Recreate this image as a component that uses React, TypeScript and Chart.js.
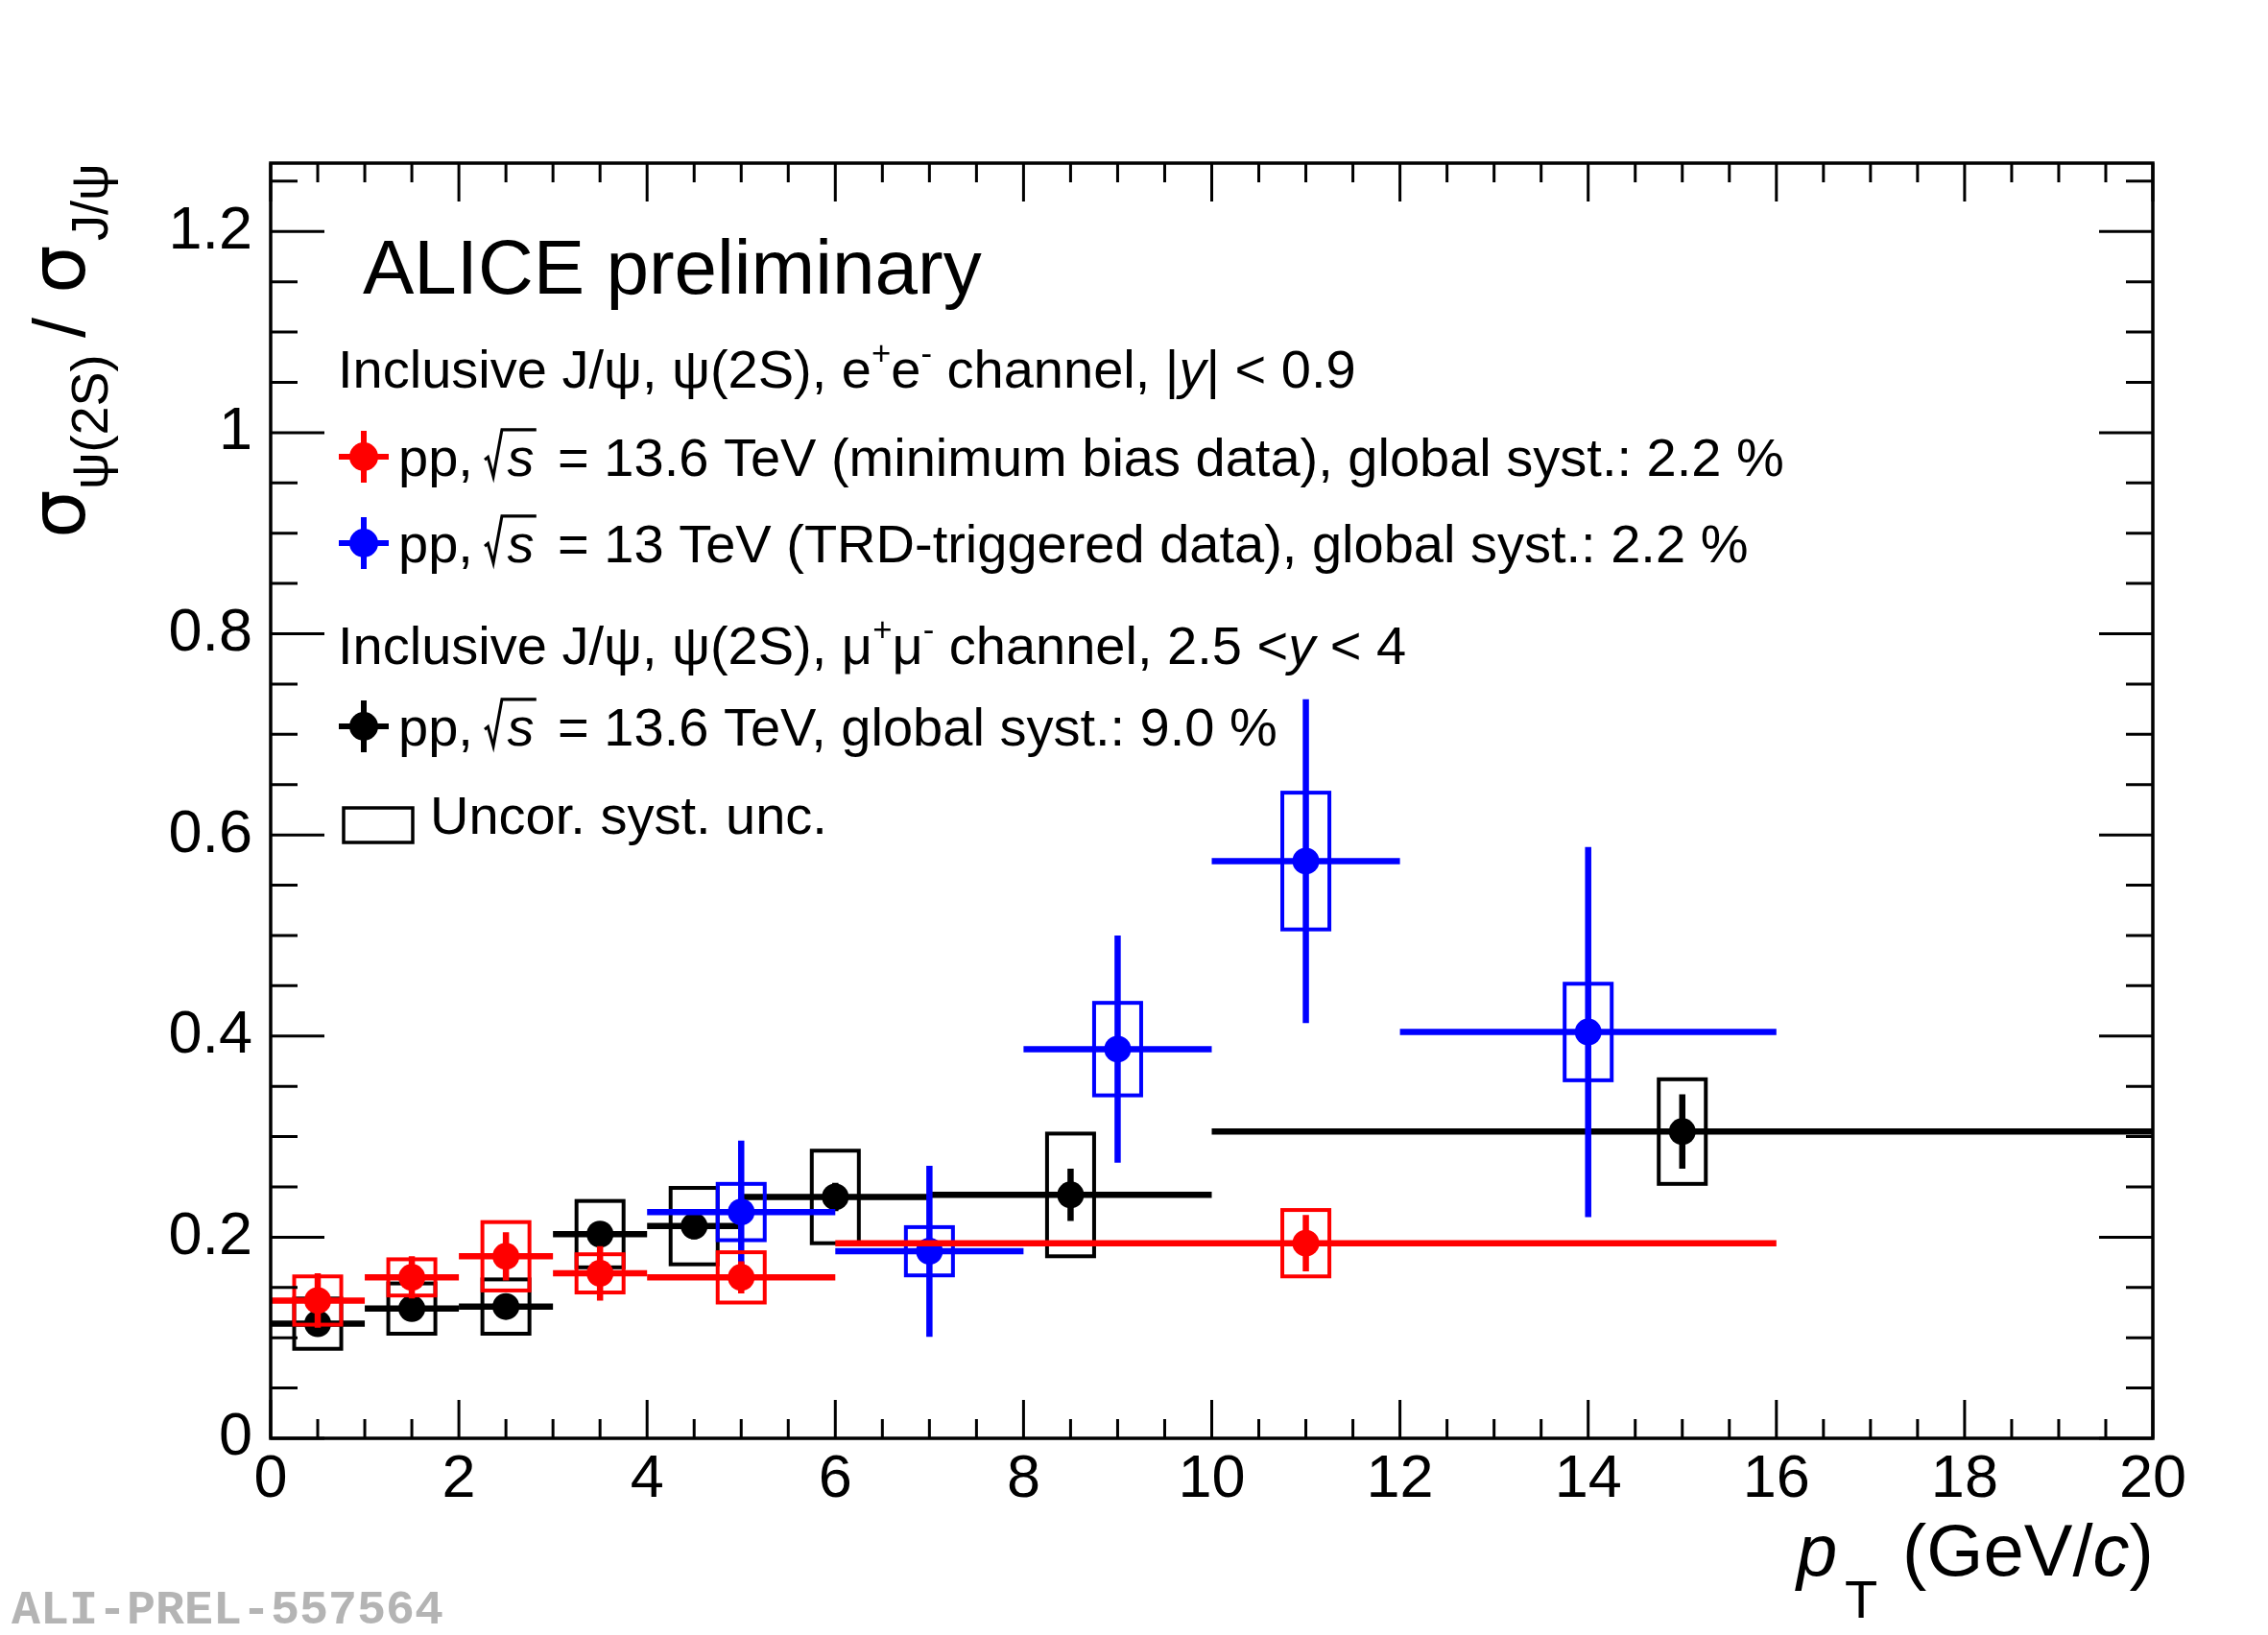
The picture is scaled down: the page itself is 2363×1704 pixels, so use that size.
import React, { useEffect, useRef } from 'react';
import { Chart, registerables } from 'chart.js';

Chart.register(...registerables);

const W = 2363;
const H = 1704;
const FONT = "'Liberation Sans', Arial, Helvetica, sans-serif";

// ---------- data ----------
const xTickValues = [0, 2, 4, 6, 8, 10, 12, 14, 16, 18, 20];
const yTickValues = [0, 0.2, 0.4, 0.6, 0.8, 1, 1.2];
const X_MIN = 0;
const X_MAX = 20;
const Y_MIN = 0;
const Y_MAX = 1.268;

// pp 13.6 TeV, e+e- (minimum bias)
const redX = [0.5, 1.5, 2.5, 3.5, 5, 11];
const redXLo = [0, 1, 2, 3, 4, 6];
const redXHi = [1, 2, 3, 4, 6, 16];
const redY = [0.137, 0.16, 0.181, 0.164, 0.16, 0.194];
const redStat = [0.027, 0.021, 0.024, 0.027, 0.016, 0.028];
const redSyst = [0.024, 0.018, 0.034, 0.019, 0.025, 0.033];

// pp 13 TeV, e+e- (TRD-triggered)
const blueX = [5, 7, 9, 11, 14];
const blueXLo = [4, 6, 8, 10, 12];
const blueXHi = [6, 8, 10, 12, 16];
const blueY = [0.225, 0.186, 0.387, 0.574, 0.404];
const blueStat = [0.071, 0.085, 0.113, 0.161, 0.184];
const blueSyst = [0.028, 0.024, 0.046, 0.068, 0.048];

// pp 13.6 TeV, mu+mu-
const blackX = [0.5, 1.5, 2.5, 3.5, 4.5, 6, 8.5, 15];
const blackXLo = [0, 1, 2, 3, 4, 5, 7, 10];
const blackXHi = [1, 2, 3, 4, 5, 7, 10, 20];
const blackY = [0.114, 0.129, 0.131, 0.203, 0.211, 0.24, 0.242, 0.305];
const blackStat = [0.008, 0.008, 0.008, 0.01, 0.013, 0.014, 0.026, 0.037];
const blackSyst = [0.025, 0.025, 0.027, 0.033, 0.038, 0.046, 0.061, 0.052];

const SYST_HALF_WIDTH = 0.25;

type Series = {
  name: string;
  color: string;
  x: number[];
  xLo: number[];
  xHi: number[];
  y: number[];
  stat: number[];
  syst: number[];
};

// index 0 is drawn on top by Chart.js
const SERIES: Series[] = [
  { name: 'pp 13.6 TeV (MB) e+e-', color: '#ff0000', x: redX, xLo: redXLo, xHi: redXHi, y: redY, stat: redStat, syst: redSyst },
  { name: 'pp 13 TeV (TRD) e+e-', color: '#0000ff', x: blueX, xLo: blueXLo, xHi: blueXHi, y: blueY, stat: blueStat, syst: blueSyst },
  { name: 'pp 13.6 TeV mu+mu-', color: '#000000', x: blackX, xLo: blackXLo, xHi: blackXHi, y: blackY, stat: blackStat, syst: blackSyst },
];

// ---------- helpers ----------
type Seg = { t?: string; sqrt?: string; italic?: boolean; scale?: number; dy?: number };

function drawSegs(ctx: CanvasRenderingContext2D, x0: number, y: number, F: number, segs: Seg[]) {
  let x = x0;
  ctx.textAlign = 'left';
  ctx.textBaseline = 'alphabetic';
  for (const s of segs) {
    const size = F * (s.scale ?? 1);
    if (s.sqrt) {
      ctx.font = `italic ${F}px ${FONT}`;
      const sw = ctx.measureText(s.sqrt).width;
      const r = x + F * 0.02;
      ctx.save();
      ctx.lineWidth = Math.max(2, F * 0.055);
      ctx.strokeStyle = '#000';
      ctx.lineJoin = 'miter';
      ctx.beginPath();
      ctx.moveTo(r - F * 0.08, y - F * 0.3);
      ctx.lineTo(r - F * 0.02, y - F * 0.35);
      ctx.lineTo(r + F * 0.08, y + F * 0.01);
      ctx.lineTo(r + F * 0.24, y - F * 0.86);
      ctx.lineTo(r + F * 0.34 + sw + F * 0.04, y - F * 0.86);
      ctx.stroke();
      ctx.restore();
      ctx.fillText(s.sqrt, r + F * 0.34, y);
      x = r + F * 0.34 + sw + F * 0.16;
      continue;
    }
    ctx.font = `${s.italic ? 'italic ' : ''}${size}px ${FONT}`;
    ctx.fillText(s.t!, x, y + (s.dy ?? 0) * F);
    x += ctx.measureText(s.t!).width;
  }
  return x;
}

function drawMarker(ctx: CanvasRenderingContext2D, cx: number, cy: number, color: string) {
  ctx.save();
  ctx.strokeStyle = color;
  ctx.fillStyle = color;
  ctx.lineWidth = 6;
  ctx.beginPath();
  ctx.moveTo(cx - 26, cy);
  ctx.lineTo(cx + 26, cy);
  ctx.moveTo(cx, cy - 27);
  ctx.lineTo(cx, cy + 27);
  ctx.stroke();
  ctx.beginPath();
  ctx.arc(cx, cy, 15, 0, Math.PI * 2);
  ctx.fill();
  ctx.restore();
}

// ---------- plugins ----------
const errorPlugin = {
  id: 'rootErrors',
  beforeDatasetDraw(chart: any, args: any) {
    const s = SERIES[args.index];
    if (!s) return;
    const ctx: CanvasRenderingContext2D = chart.ctx;
    const xs = chart.scales.x;
    const ys = chart.scales.y;
    ctx.save();
    ctx.strokeStyle = s.color;
    // systematic boxes
    ctx.lineWidth = 4;
    for (let i = 0; i < s.x.length; i++) {
      const l = xs.getPixelForValue(s.x[i] - SYST_HALF_WIDTH);
      const r = xs.getPixelForValue(s.x[i] + SYST_HALF_WIDTH);
      const t = ys.getPixelForValue(s.y[i] + s.syst[i]);
      const b = ys.getPixelForValue(s.y[i] - s.syst[i]);
      ctx.strokeRect(l, t, r - l, b - t);
    }
    // bin widths and statistical errors
    ctx.lineWidth = 6.5;
    ctx.lineCap = 'butt';
    for (let i = 0; i < s.x.length; i++) {
      const px = xs.getPixelForValue(s.x[i]);
      const py = ys.getPixelForValue(s.y[i]);
      ctx.beginPath();
      ctx.moveTo(xs.getPixelForValue(s.xLo[i]), py);
      ctx.lineTo(xs.getPixelForValue(s.xHi[i]), py);
      ctx.moveTo(px, ys.getPixelForValue(s.y[i] + s.stat[i]));
      ctx.lineTo(px, ys.getPixelForValue(s.y[i] - s.stat[i]));
      ctx.stroke();
    }
    ctx.restore();
  },
};

const framePlugin = {
  id: 'rootFrame',
  afterDraw(chart: any) {
    const ctx: CanvasRenderingContext2D = chart.ctx;
    const a = chart.chartArea;
    const xs = chart.scales.x;
    const ys = chart.scales.y;
    ctx.save();
    ctx.strokeStyle = '#000';
    ctx.lineWidth = 3.5;
    ctx.strokeRect(a.left, a.top, a.right - a.left, a.bottom - a.top);

    // x ticks (bottom and top, inward)
    ctx.lineWidth = 3;
    ctx.beginPath();
    for (let v = X_MIN; v <= X_MAX + 1e-9; v += 0.5) {
      const major = xTickValues.some((t) => Math.abs(t - v) < 1e-6);
      const len = major ? 40 : 20;
      const px = xs.getPixelForValue(v);
      ctx.moveTo(px, a.bottom);
      ctx.lineTo(px, a.bottom - len);
      ctx.moveTo(px, a.top);
      ctx.lineTo(px, a.top + len);
    }
    // y ticks (left and right, inward)
    for (let v = Y_MIN; v <= Y_MAX + 1e-9; v += 0.05) {
      const major = yTickValues.some((t) => Math.abs(t - v) < 1e-6);
      const len = major ? 56 : 28;
      const py = ys.getPixelForValue(v);
      ctx.moveTo(a.left, py);
      ctx.lineTo(a.left + len, py);
      ctx.moveTo(a.right, py);
      ctx.lineTo(a.right - len, py);
    }
    ctx.stroke();

    ctx.fillStyle = '#000';

    // ALICE preliminary
    ctx.font = `80px ${FONT}`;
    ctx.textAlign = 'left';
    ctx.textBaseline = 'alphabetic';
    ctx.fillText('ALICE preliminary', 378, 306);

    // legend
    const F = 56;
    const sup = 0.62;
    drawSegs(ctx, 352, 404, F, [
      { t: 'Inclusive J/ψ, ψ(2S), e' },
      { t: '+', scale: sup, dy: -0.42 },
      { t: 'e' },
      { t: '-', scale: sup, dy: -0.42 },
      { t: ' channel, |' },
      { t: 'y', italic: true },
      { t: '| < 0.9' },
    ]);
    drawMarker(ctx, 379, 476, '#ff0000');
    drawSegs(ctx, 415, 496, F, [
      { t: 'pp, ' },
      { sqrt: 's' },
      { t: ' = 13.6 TeV (minimum bias data), global syst.: 2.2 %' },
    ]);
    drawMarker(ctx, 379, 566, '#0000ff');
    drawSegs(ctx, 415, 586, F, [
      { t: 'pp, ' },
      { sqrt: 's' },
      { t: ' = 13 TeV (TRD-triggered data), global syst.: 2.2 %' },
    ]);
    drawSegs(ctx, 352, 692, F, [
      { t: 'Inclusive J/ψ, ψ(2S), μ' },
      { t: '+', scale: sup, dy: -0.42 },
      { t: 'μ' },
      { t: '-', scale: sup, dy: -0.42 },
      { t: ' channel, 2.5 <' },
      { t: 'y', italic: true },
      { t: ' < 4' },
    ]);
    drawMarker(ctx, 379, 757, '#000000');
    drawSegs(ctx, 415, 777, F, [
      { t: 'pp, ' },
      { sqrt: 's' },
      { t: ' = 13.6 TeV, global syst.: 9.0 %' },
    ]);
    ctx.lineWidth = 3.5;
    ctx.strokeStyle = '#000';
    ctx.strokeRect(358, 842, 72, 36);
    drawSegs(ctx, 448, 869, F, [{ t: 'Uncor. syst. unc.' }]);

    // x axis title
    ctx.font = `italic 76px ${FONT}`;
    ctx.fillText('p', 1872, 1642);
    ctx.font = `56px ${FONT}`;
    ctx.fillText('T', 1922, 1686);
    drawSegs(ctx, 1982, 1642, 76, [{ t: '(GeV/' }, { t: 'c', italic: true }, { t: ')' }]);

    // y axis title (rotated)
    ctx.save();
    ctx.translate(88, 170);
    ctx.rotate(-Math.PI / 2);
    ctx.textAlign = 'left';
    ctx.textBaseline = 'alphabetic';
    const sigmaFont = `80px 'DejaVu Sans', ${FONT}`;
    ctx.font = sigmaFont;
    ctx.fillText('σ', -(561 - 170), 0);
    ctx.font = `54px ${FONT}`;
    ctx.fillText('ψ(2S)', -(510 - 170), 24);
    ctx.font = `76px ${FONT}`;
    ctx.fillText('/', -(352 - 170), 0);
    ctx.font = sigmaFont;
    ctx.fillText('σ', -(306 - 170), 0);
    ctx.font = `54px ${FONT}`;
    ctx.fillText('J/ψ', -(251 - 170), 24);
    ctx.restore();

    // ALI-PREL label
    ctx.font = `bold 50px 'Liberation Mono', 'DejaVu Sans Mono', monospace`;
    ctx.fillStyle = '#b4b4b4';
    ctx.fillText('ALI-PREL-557564', 12, 1692);

    ctx.restore();
  },
};

export default function App() {
  const ref = useRef<HTMLCanvasElement | null>(null);

  useEffect(() => {
    document.body.style.margin = '0';
    const canvas = ref.current;
    if (!canvas) return;
    const chart = new Chart(canvas, {
      type: 'scatter',
      data: {
        datasets: SERIES.map((s) => ({
          label: s.name,
          data: s.x.map((x, i) => ({ x, y: s.y[i] })),
          backgroundColor: s.color,
          borderColor: s.color,
          borderWidth: 0,
          pointRadius: 14,
          pointHoverRadius: 14,
          pointStyle: 'circle',
          showLine: false,
        })),
      },
      options: {
        responsive: false,
        animation: false,
        devicePixelRatio: 1,
        events: [],
        layout: { padding: { left: 0, right: W - 2243, top: 170, bottom: 105 } },
        plugins: {
          legend: { display: false },
          tooltip: { enabled: false },
          title: { display: false },
        },
        scales: {
          x: {
            type: 'linear',
            min: X_MIN,
            max: X_MAX,
            afterBuildTicks: (scale: any) => {
              scale.ticks = xTickValues.map((v) => ({ value: v }));
            },
            afterFit: (scale: any) => {
              scale.height = 100;
            },
            grid: { display: false, drawTicks: false },
            border: { display: false },
            ticks: {
              font: { family: FONT, size: 63 },
              color: '#000',
              padding: 6,
              maxRotation: 0,
              autoSkip: false,
              callback: (v: any) => String(v),
            },
          },
          y: {
            type: 'linear',
            min: Y_MIN,
            max: Y_MAX,
            afterBuildTicks: (scale: any) => {
              scale.ticks = yTickValues.map((v) => ({ value: v }));
            },
            afterFit: (scale: any) => {
              scale.width = 282;
            },
            grid: { display: false, drawTicks: false },
            border: { display: false },
            ticks: {
              font: { family: FONT, size: 63 },
              color: '#000',
              padding: 19,
              autoSkip: false,
              callback: (v: any) => String(v),
            },
          },
        },
      },
      plugins: [errorPlugin, framePlugin],
    } as any);
    return () => chart.destroy();
  }, []);

  return <canvas ref={ref} width={W} height={H} style={{ display: 'block', width: W, height: H }} />;
}
